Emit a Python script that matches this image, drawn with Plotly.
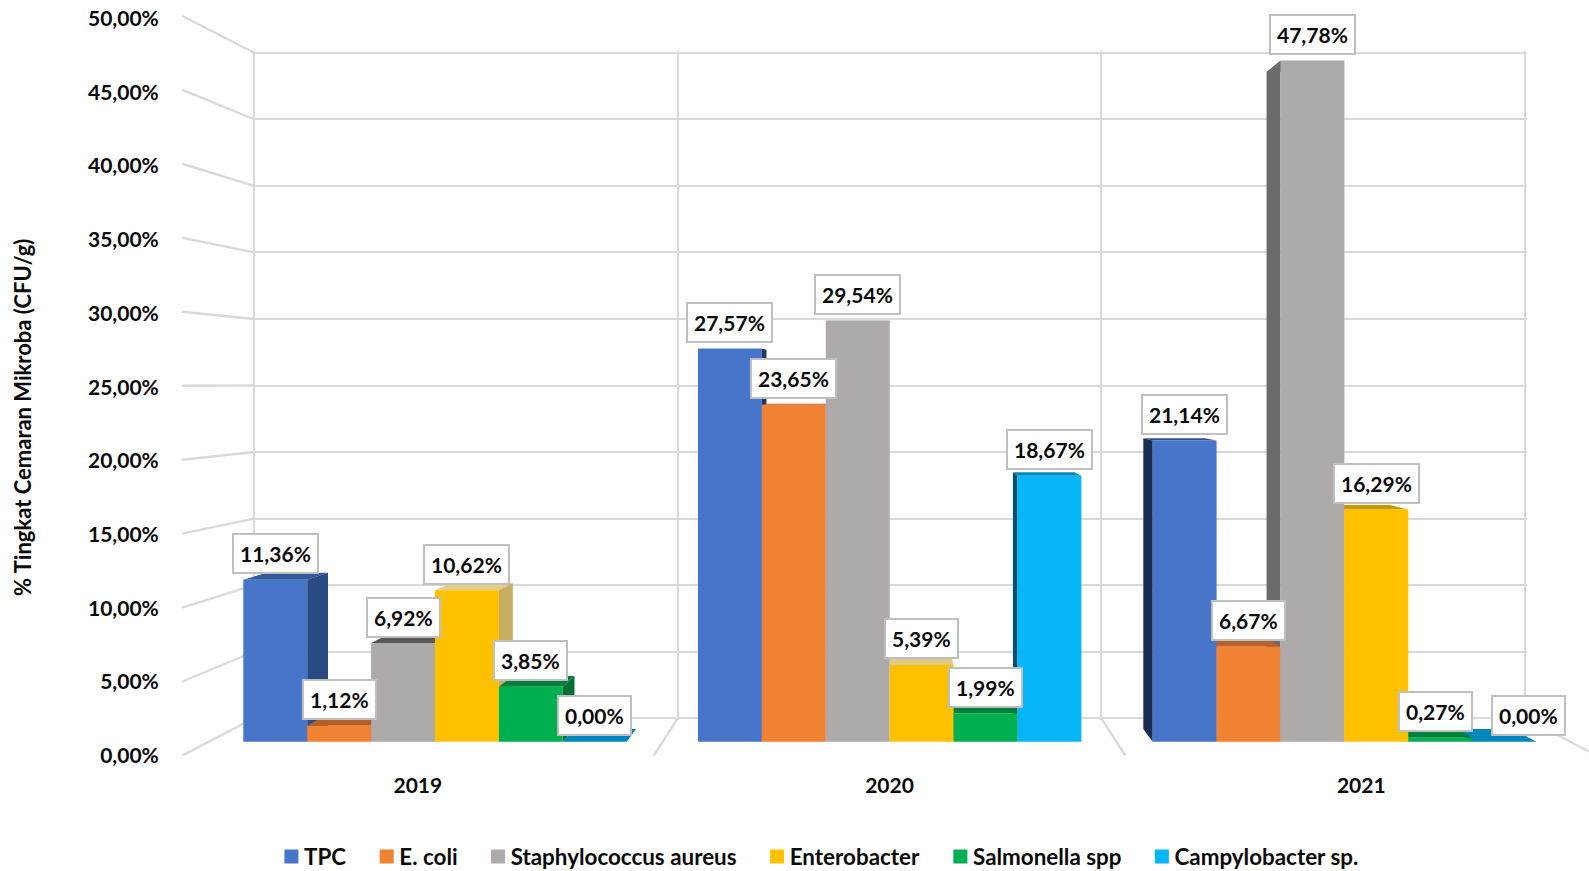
import plotly.graph_objects as go

# ---------- data ----------
years = ["2019", "2020", "2021"]
series_names = ["TPC", "E. coli", "Staphylococcus aureus", "Enterobacter", "Salmonella spp", "Campylobacter sp."]
tpc = [11.36, 27.57, 21.14]
e_coli = [1.12, 23.65, 6.67]
staph = [6.92, 29.54, 47.78]
enterobacter = [10.62, 5.39, 16.29]
salmonella = [3.85, 1.99, 0.27]
campylobacter = [0.00, 18.67, 0.00]
series_values = [tpc, e_coli, staph, enterobacter, salmonella, campylobacter]
tick_values = [0, 5, 10, 15, 20, 25, 30, 35, 40, 45, 50]
tick_labels = ["0,00%", "5,00%", "10,00%", "15,00%", "20,00%", "25,00%", "30,00%", "35,00%", "40,00%", "45,00%", "50,00%"]

# ---------- style / geometry ----------
W, H = 1589, 871
FONT = "Lato"
TEXT = "#0a0a0a"
GRID = "#D9D9D9"
front_colors = ["#4775C9", "#F18133", "#ADAAA9", "#FFC000", "#00B050", "#06B6F7"]
side_colors = [
    ["#2A4A82", "#1F3864", "#1A2E54"],
    ["#A85A22", "#B45F26", "#B8602A"],
    ["#595757", "#6C6A6A", "#6C6A6A"],
    ["#C5AE62", "#C5AE62", "#C99700"],
    ["#006F33", "#00733A", "#00733A"],
    ["#00628A", "#00506E", "#00628A"],
]
top_colors = [
    ["#33599B", "#2F528F", "#2F528F"],
    ["#B45F26", "#B45F26", "#B8602A"],
    ["#595757", "#6C6A6A", "#6C6A6A"],
    ["#E3CD8D", "#E0C983", "#C99700"],
    ["#007E3A", "#007E3A", "#008038"],
    ["#0088BB", "#0088BB", "#0088BB"],
]
label_nudge = {(5, 2): 24, (4, 2): -5}

# back wall (pixels); PAD keeps the edge grid lines inside the axis range
WALL_L, WALL_R, WALL_T, WALL_B = 254.0, 1525.0, 52.7, 718.3
PAD = 2.0
# front axis plane (pixels)
FRONT_L, FRONT_PITCH, FRONT_T, FRONT_B = 182.0, 471.7, 15.7, 755.7
LABEL_T = 18.7
AXIS_TOP = 6.0
# bar front plane (pixels)
BAR_Y0, BAR_PX, BAR_CX, BAR_PITCH = 741.7, 14.25, 889.7, 454.7
BAR_W = 63.9 / BAR_PITCH
# bar depth projection
DEPTH_X = 0.0357
DEPTH_Y0, DEPTH_YK = 12.7, 0.5

x_bar_range = [1 - BAR_CX / BAR_PITCH, 1 + (W - BAR_CX) / BAR_PITCH]
y_bar_range = [(BAR_Y0 - H) / BAR_PX, BAR_Y0 / BAR_PX]
front_x_range = [0, (W - FRONT_L) / FRONT_PITCH]
front_px = (FRONT_B - FRONT_T) / 50
label_px = (FRONT_B - LABEL_T) / 50
wall_px = (WALL_B - WALL_T) / 50
wall_x_px = (WALL_R - WALL_L) / 3


def back_x(x):
    return x + (1 - x) * DEPTH_X


def back_y(v):
    return v + (DEPTH_Y0 - DEPTH_YK * v) / BAR_PX


fig = go.Figure()

# the back wall: its grid needs a trace on its axes to be drawn
fig.add_trace(go.Scatter(x=[0, 3], y=[0, 50], mode="markers", marker=dict(opacity=0), showlegend=False,
                         hoverinfo="skip", xaxis="x", yaxis="y"))

# side-wall and floor lines, in the front axis system
sx, sy = [], []
for v in tick_values:
    sx += [0, (WALL_L - FRONT_L) / FRONT_PITCH, None]
    sy += [v * front_px / label_px, (FRONT_B - (WALL_B - wall_px * v)) / label_px, None]
for k in (1, 2, 3):
    wall_x = WALL_L + k * wall_x_px
    sx += [k, (wall_x - FRONT_L) / FRONT_PITCH, None]
    sy += [0, (FRONT_B - WALL_B) / label_px, None]
fig.add_trace(go.Scatter(x=sx, y=sy, mode="lines", xaxis="x2", yaxis="y2", showlegend=False,
                         hoverinfo="skip", line=dict(color=GRID, width=2.4), cliponaxis=False))

# side and top faces
bars = []
for g in range(3):
    for s in range(6):
        bars.append((g, s, g + (s - 2.5) * BAR_W))
bars.sort(key=lambda b: -abs(b[2] - 1))
for g, s, xc in bars:
    v = series_values[s][g]
    xl, xr = xc - BAR_W / 2, xc + BAR_W / 2
    vb = back_y(v)
    fig.add_trace(go.Scatter(
        x=[xl, xr, back_x(xr), back_x(xl), xl], y=[v, v, vb, vb, v],
        fill="toself", fillcolor=top_colors[s][g], mode="lines", line=dict(width=0),
        xaxis="x3", yaxis="y3", showlegend=False, hoverinfo="skip"))
    edge = xr if xc < 1 else xl
    fig.add_trace(go.Scatter(
        x=[edge, edge, back_x(edge), back_x(edge), edge], y=[0, v, vb, back_y(0), 0],
        fill="toself", fillcolor=side_colors[s][g], mode="lines", line=dict(width=0),
        xaxis="x3", yaxis="y3", showlegend=False, hoverinfo="skip"))

# front faces
for s, name in enumerate(series_names):
    fig.add_trace(go.Bar(x=[0, 1, 2], y=series_values[s], name=name, marker=dict(color=front_colors[s], line=dict(width=0)),
                         xaxis="x4", yaxis="y4"))

# value labels
annotations = []
for s in range(6):
    for g in range(3):
        v = series_values[s][g]
        annotations.append(dict(
            x=g + (s - 2.5) * BAR_W, y=v, xref="x4", yref="y4", showarrow=False,
            text=f"<b>{v:.2f}%</b>".replace(".", ","), yshift=26, xshift=label_nudge.get((s, g), 0),
            font=dict(family=FONT, size=21, color=TEXT), bgcolor="white",
            bordercolor="#BFBFBF", borderwidth=2, borderpad=6, xanchor="center", yanchor="middle"))
annotations.append(dict(
    text="<b>% Tingkat Cemaran Mikroba (CFU/g)</b>", textangle=-90, x=22 / W, y=1 - 418 / H,
    xref="paper", yref="paper", showarrow=False, xanchor="center", yanchor="middle",
    font=dict(family=FONT, size=22, color=TEXT)))

hidden = dict(visible=False, fixedrange=True)
fig.update_layout(
    width=W, height=H, margin=dict(l=0, r=0, t=0, b=0, pad=0, autoexpand=False), autosize=False,
    paper_bgcolor="white", plot_bgcolor="rgba(0,0,0,0)",
    barmode="group", bargap=1 - 6 * BAR_W, bargroupgap=0,
    showlegend=True,
    legend=dict(orientation="h", x=256 / W, y=1 - 857 / H, xanchor="left", yanchor="middle", itemwidth=38,
                font=dict(family=FONT, size=22.4, color=TEXT, weight="bold"),
                bgcolor="rgba(0,0,0,0)", traceorder="normal"),
    xaxis=dict(domain=[(WALL_L - PAD) / W, (WALL_R + PAD) / W], range=[-PAD / wall_x_px, 3 + PAD / wall_x_px],
               tickvals=[0, 1, 2, 3], showgrid=True,
               gridcolor=GRID, gridwidth=2.4, showticklabels=False, zeroline=False, ticks="", anchor="y"),
    yaxis=dict(domain=[1 - (WALL_B + PAD) / H, 1 - (WALL_T - PAD) / H], range=[-PAD / wall_px, 50 + PAD / wall_px],
               tickvals=tick_values, showgrid=True,
               gridcolor=GRID, gridwidth=2.4, showticklabels=False, zeroline=False, ticks="", anchor="x"),
    xaxis2=dict(domain=[FRONT_L / W, 1], range=front_x_range, tickvals=[0.5, 1.5, 2.5], ticktext=years,
                showgrid=False, zeroline=False, anchor="y2", ticks="outside", ticklen=11, tickcolor="rgba(0,0,0,0)",
                tickfont=dict(family=FONT, size=21, color=TEXT, weight="bold")),
    yaxis2=dict(domain=[1 - FRONT_B / H, 1 - AXIS_TOP / H], range=[0, (FRONT_B - AXIS_TOP) / label_px],
                tickvals=tick_values, ticktext=tick_labels,
                showgrid=False, zeroline=False, anchor="x2", ticks="outside", ticklen=18, tickcolor="rgba(0,0,0,0)",
                tickfont=dict(family=FONT, size=21, color=TEXT, weight="bold")),
    xaxis3=dict(domain=[0, 1], range=x_bar_range, anchor="y3", **hidden),
    yaxis3=dict(domain=[0, 1], range=y_bar_range, anchor="x3", **hidden),
    xaxis4=dict(domain=[0, 1], range=x_bar_range, anchor="y4", **hidden),
    yaxis4=dict(domain=[0, 1], range=y_bar_range, anchor="x4", **hidden),
    annotations=annotations,
)

# page margin off; legend keys set close to their text, as larger squares
post = """
document.body.style.margin='0';document.documentElement.style.overflow='hidden';
var gd=document.getElementById('{plot_id}');
function keys(){
  gd.querySelectorAll('.legend .legendsymbols').forEach(function(e){e.setAttribute('transform','translate(11.4,0)');});
  gd.querySelectorAll('.legend .legendpoints path').forEach(function(e){e.setAttribute('d','M7,7H-7V-7H7Z');});
}
keys();
gd.on('plotly_afterplot',keys);
"""
fig.write_html("out.html", config=dict(displayModeBar=False), post_script=post)
